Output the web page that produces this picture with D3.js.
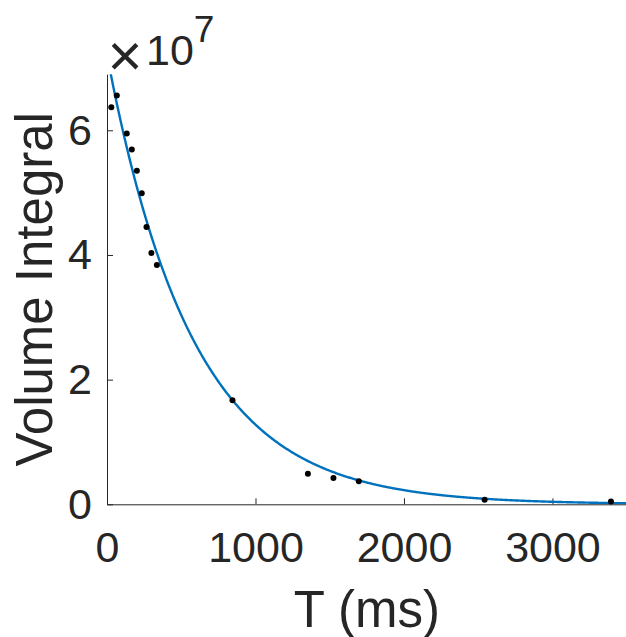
<!DOCTYPE html>
<html><head><meta charset="utf-8">
<script src="https://cdn.jsdelivr.net/npm/d3@7"></script>
<style>
html,body{margin:0;padding:0;background:#fff;}
svg text{font-family:"Liberation Sans",Arial,Helvetica,sans-serif;fill:#262626;}
</style></head>
<body>
<svg id="chart" width="626" height="637"></svg>
<script>
// Measured points (T in ms, volume integral)
const tValues = [29, 66, 133, 167, 201, 234, 266, 299, 336, 845, 1353, 1525, 1696, 2543, 3394];
const volumeValues = [6.37e7, 6.56e7, 5.95e7, 5.69e7, 5.35e7, 4.99e7, 4.45e7, 4.03e7, 3.84e7, 1.67e7, 4.9e6, 4.2e6, 3.7e6, 7.5e5, 4.3e5];
// Mono-exponential fit parameters
const fitAmplitude = 7.21e7;
const fitT1 = 578;
const xTicks = [0, 1000, 2000, 3000];
const yTicks = [0, 2e7, 4e7, 6e7];
const yTickLabels = ["0", "2", "4", "6"];

const svg = d3.select("#chart");
const x = d3.scaleLinear().domain([0, 3500]).range([107, 626.7]);
const y = d3.scaleLinear().domain([0, 6.9e7]).range([504.3, 74.2]);
const axisColor = "#262626";

svg.append("defs").append("clipPath").attr("id", "clip")
  .append("rect").attr("x", x(0)).attr("y", y(6.9e7))
  .attr("width", x(3500) - x(0)).attr("height", y(0) - y(6.9e7));

// x axis
const gx = svg.append("g").attr("transform", `translate(0,${y(0)})`)
  .call(d3.axisBottom(x).tickValues(xTicks).tickSizeInner(-6).tickSizeOuter(0).tickPadding(27).tickFormat(d3.format("d")));
gx.select(".domain").attr("stroke", axisColor).attr("stroke-width", 1);
gx.selectAll(".tick line").attr("stroke", axisColor);
gx.selectAll(".tick text").attr("font-size", 43).attr("fill", axisColor).attr("font-family", "Liberation Sans, Arial, sans-serif");

// y axis
const gy = svg.append("g").attr("transform", `translate(${x(0)},0)`)
  .call(d3.axisLeft(y).tickValues(yTicks).tickSizeInner(-6).tickSizeOuter(0).tickPadding(15).tickFormat((d, i) => yTickLabels[i]));
gy.select(".domain").attr("stroke", axisColor).attr("stroke-width", 1);
gy.selectAll(".tick line").attr("stroke", axisColor);
gy.selectAll(".tick text").attr("font-size", 43).attr("fill", axisColor).attr("font-family", "Liberation Sans, Arial, sans-serif");

// exponent label
svg.append("text").attr("x", 125).attr("y", 76).attr("font-size", 60)
  .attr("text-anchor", "middle").attr("fill", "#6a6a6a").text("×");
const ex = svg.append("text").attr("x", 146).attr("y", 65).attr("font-size", 43);
ex.append("tspan").text("10");
ex.append("tspan").text("7").attr("font-size", 37).attr("dy", -23);

// fit curve
const curveT = d3.range(0, 3501, 5);
svg.append("path")
  .datum(curveT)
  .attr("clip-path", "url(#clip)")
  .attr("fill", "none").attr("stroke", "#0072BD").attr("stroke-width", 2.4)
  .attr("d", d3.line().x(t => x(t)).y(t => y(fitAmplitude * Math.exp(-t / fitT1))));

// data points
svg.append("g").selectAll("circle")
  .data(tValues.map((t, i) => [t, volumeValues[i]]))
  .join("circle")
  .attr("cx", d => x(d[0])).attr("cy", d => y(d[1])).attr("r", 3).attr("fill", "#000");

// axis titles
svg.append("text").attr("x", x(0) + (x(3500) - x(0)) / 2).attr("y", 627)
  .attr("text-anchor", "middle").attr("font-size", 51).text("T (ms)");
svg.append("text").attr("transform", `translate(52,${(y(0) + y(6.9e7)) / 2}) rotate(-90)`)
  .attr("text-anchor", "middle").attr("font-size", 51).text("Volume Integral");
</script>
</body></html>
